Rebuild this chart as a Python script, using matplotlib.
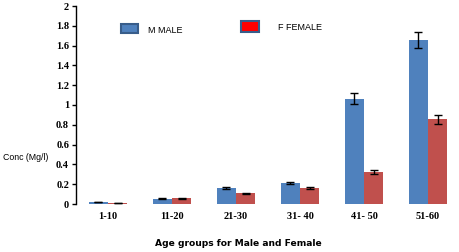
import numpy as np
import matplotlib
matplotlib.use("Agg")
import matplotlib.pyplot as plt
from matplotlib.patches import Rectangle

# data
age_groups = ['1-10', '11-20', '21-30', '31- 40', '41- 50', '51-60']
male = [0.02, 0.054, 0.162, 0.21, 1.065, 1.655]
female = [0.01, 0.06, 0.111, 0.162, 0.323, 0.855]
male_err = [0.004, 0.005, 0.006, 0.01, 0.055, 0.08]
female_err = [0.003, 0.005, 0.005, 0.006, 0.016, 0.042]
yticks = [0, 0.2, 0.4, 0.6, 0.8, 1, 1.2, 1.4, 1.6, 1.8, 2]

fig = plt.figure(figsize=(4.6, 2.52), dpi=100)
ax = fig.add_axes([76 / 460, 48 / 252, 384 / 460, 198 / 252])

x = np.arange(len(age_groups))
w = 0.3
err_kw = dict(ecolor='black', capsize=3, elinewidth=1, capthick=1)
ax.bar(x - w / 2, male, w, yerr=male_err, color='#4F81BD', error_kw=err_kw)
ax.bar(x + w / 2, female, w, yerr=female_err, color='#C0504D', error_kw=err_kw)

ax.set_xlim(-0.5, len(age_groups) - 0.5)
ax.set_ylim(0, 2)
ax.set_yticks(yticks)
ax.set_yticklabels([f"{v:g}" for v in yticks])
ax.set_xticks(x)
ax.set_xticklabels(age_groups)

for lab in ax.get_xticklabels() + ax.get_yticklabels():
    lab.set_fontfamily('Liberation Serif')
    lab.set_fontweight('bold')
    lab.set_fontsize(7.5)

for s in ['top', 'right', 'bottom']:
    ax.spines[s].set_visible(False)
ax.spines['left'].set_linewidth(1)
ax.tick_params(axis='y', direction='out', length=3, width=1, pad=2)
ax.tick_params(axis='x', length=0, pad=6)

fig.text(238 / 460, 1 - 244 / 252, 'Age groups for Male and Female',
         fontsize=6.6, fontweight='bold', family='DejaVu Sans',
         ha='center', va='center')
fig.text(3 / 460, 1 - 158 / 252, 'Conc (Mg/l)', fontsize=6.3,
         family='Liberation Sans', va='center', ha='left')

# hand-made legend like the original
fig.patches.append(Rectangle((121 / 460, 1 - 33 / 252), 17 / 460, 9 / 252,
                             transform=fig.transFigure, facecolor='#4F81BD',
                             edgecolor='#385D8A', linewidth=1.5))
fig.text(148 / 460, 1 - 30.5 / 252, 'M MALE', fontsize=6.5,
         family='Liberation Sans', va='center', ha='left')
fig.patches.append(Rectangle((241 / 460, 1 - 32 / 252), 18 / 460, 11 / 252,
                             transform=fig.transFigure, facecolor='#FF0000',
                             edgecolor='#385D8A', linewidth=1.5))
fig.text(278 / 460, 1 - 28 / 252, 'F FEMALE', fontsize=6.5,
         family='Liberation Sans', va='center', ha='left')

fig.savefig('out.png', dpi=100)
